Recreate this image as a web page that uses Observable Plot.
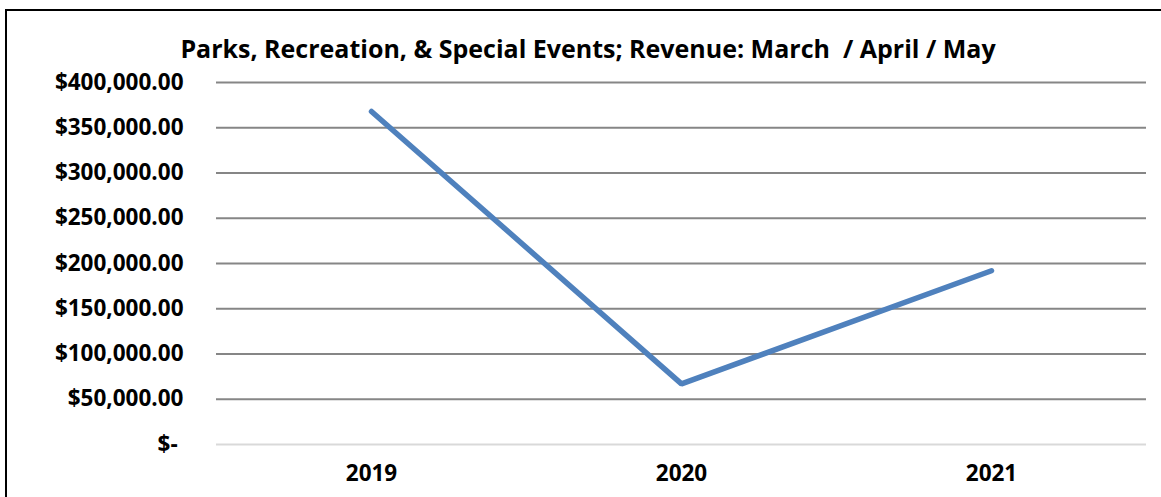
<!DOCTYPE html>
<html>
<head>
<meta charset="utf-8">
<script src="https://cdn.jsdelivr.net/npm/d3@7"></script>
<script src="https://cdn.jsdelivr.net/npm/@observablehq/plot@0.6"></script>
<style>
  html, body { margin: 0; padding: 0; overflow: hidden; background: #fff; width: 1161px; height: 497px; }
  #frame { position: absolute; left: 5px; top: 9px; width: 1300px; height: 1000px; border: 2px solid #000; pointer-events: none; }
  #title { position: absolute; left: 0; top: 36px; width: 1161px; box-sizing: border-box; padding-left: 15px; text-align: center;
           font-family: "Open Sans", sans-serif; font-weight: bold; font-size: 25px; line-height: 1; color: #000; white-space: pre; }
  #chart { position: absolute; left: 0; top: 65px; }
  #chart svg text { font-weight: bold; }
</style>
</head>
<body>
<div id="title"></div>
<div id="chart"></div>
<div id="frame"></div>
<script>
const titleText = "Parks, Recreation, & Special Events; Revenue: March  / April / May";
const years = ["2019", "2020", "2021"];
const revenue = [368000, 67000, 192000];
const yTicks = [0, 50000, 100000, 150000, 200000, 250000, 300000, 350000, 400000];

const data = years.map((y, i) => ({year: y, revenue: revenue[i]}));
const fmt = d => d === 0 ? "$-\u00a0" : "$" + d3.format(",.2f")(d);

document.getElementById("title").textContent = titleText;

const chart = Plot.plot({
  width: 1161,
  height: 432,
  marginLeft: 216,
  marginRight: 15,
  marginTop: 17,
  marginBottom: 53,
  style: {fontFamily: "'Open Sans', sans-serif", fontSize: "22.5px", color: "#000", background: "#fff"},
  x: {type: "point", domain: years, padding: 0.5, label: null},
  y: {domain: [0, 400000], label: null},
  marks: [
    Plot.ruleY(yTicks.filter(d => d > 0), {stroke: "#868686", strokeWidth: 2}),
    Plot.ruleY([0], {stroke: "#d9d9d9", strokeWidth: 2}),
    Plot.axisY({ticks: yTicks, tickFormat: fmt, tickSize: 0, tickPadding: 33, label: null, fill: "#000"}),
    Plot.axisX({tickSize: 0, tickPadding: 21, label: null, fill: "#000"}),
    Plot.line(data, {x: "year", y: "revenue", stroke: "#4f81bd", strokeWidth: 5.5, strokeLinejoin: "miter", strokeLinecap: "round"})
  ]
});
document.getElementById("chart").appendChild(chart);
</script>
</body>
</html>
